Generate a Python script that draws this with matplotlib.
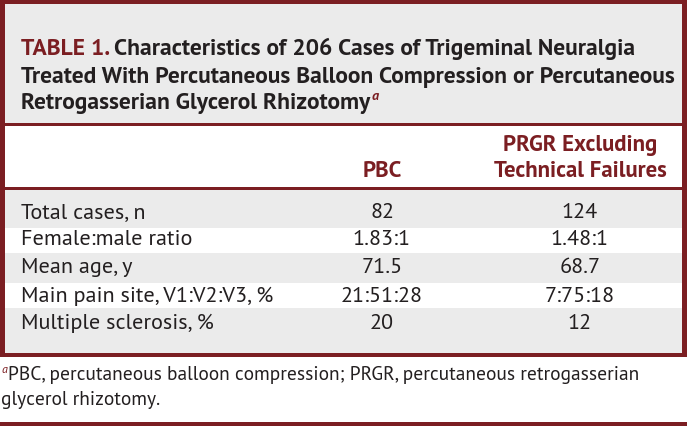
import matplotlib
matplotlib.use('Agg')
import matplotlib.pyplot as plt
from matplotlib.patches import Rectangle

plt.rcParams['font.family'] = ['PT Sans', 'Lato', 'DejaVu Sans']

# table content
title_lines = ['Characteristics of 206 Cases of Trigeminal Neuralgia',
               'Treated With Percutaneous Balloon Compression or Percutaneous',
               'Retrogasserian Glycerol Rhizotomy']
col_headers = ['PBC', 'PRGR Excluding\nTechnical Failures']
row_labels = ['Total cases, n', 'Female:male ratio', 'Mean age, y',
              'Main pain site, V1:V2:V3, %', 'Multiple sclerosis, %']
pbc = ['82', '1.83:1', '71.5', '21:51:28', '20']
prgr = ['124', '1.48:1', '68.7', '7:75:18', '12']
footnote = ['PBC, percutaneous balloon compression; PRGR, percutaneous retrogasserian',
            'glycerol rhizotomy.']

red = '#7b1e22'
gray = '#ebebeb'
txt = '#231f20'

fig = plt.figure(figsize=(6.87, 4.26), dpi=100)
ax = fig.add_axes([0, 0, 1, 1])
ax.set_xlim(0, 687)
ax.set_ylim(426, 0)
ax.axis('off')
r = fig.canvas.get_renderer()


def width(t):
    return t.get_window_extent(r).width


def fit_size(s, target, weight='normal'):
    # font size that makes s about target pixels wide
    t = ax.text(0, 0, s, fontsize=12, fontweight=weight)
    w = width(t)
    t.remove()
    return 12 * target / w


fs_title = fit_size('TABLE 1. ' + title_lines[0], 614, 'bold')
fs_head = fit_size('Technical Failures', 173, 'bold')
fs_body = fit_size(row_labels[0], 124)
fs_foot = fit_size(footnote[0], 629)

# outer frame + title band
ax.add_patch(Rectangle((0, 0), 687, 357, color=red, lw=0))
ax.add_patch(Rectangle((5, 4), 677, 349, color='white', lw=0))
ax.add_patch(Rectangle((5, 4), 677, 119, color=gray, lw=0))
ax.add_patch(Rectangle((5, 123), 677, 2.5, color=red, lw=0))
ax.add_patch(Rectangle((5, 187), 677, 2.5, color=red, lw=0))

# title
tx = 21
t0 = ax.text(tx, 55, 'TABLE 1. ', color=red, fontsize=fs_title, fontweight='bold', va='baseline')
ax.text(tx + width(t0), 55, title_lines[0], color=txt, fontsize=fs_title, fontweight='bold', va='baseline')
ax.text(tx, 83, title_lines[1], color=txt, fontsize=fs_title, fontweight='bold', va='baseline')
t3 = ax.text(tx, 109, title_lines[2], color=txt, fontsize=fs_title, fontweight='bold', va='baseline')
ax.text(tx + width(t3) + 1, 100, 'a', color=red, fontsize=fs_title * 0.6,
        fontstyle='italic', fontweight='bold', va='baseline')

# column headers
col_x = [382, 580]
ax.text(col_x[0], 177, col_headers[0], color=red, fontsize=fs_head, fontweight='bold',
        ha='center', va='baseline')
ax.text(col_x[1], 177, col_headers[1], color=red, fontsize=fs_head, fontweight='bold',
        ha='center', va='baseline', multialignment='center', linespacing=1.3)

# body rows
row_top = [189.5, 228, 253, 283, 308]
row_bot = [228, 253, 283, 308, 353]
row_base = [218, 245, 273, 302, 329]
for i, lab in enumerate(row_labels):
    if i % 2 == 0:
        ax.add_patch(Rectangle((5, row_top[i]), 677, row_bot[i] - row_top[i], color=gray, lw=0))
    ax.text(21, row_base[i], lab, color=txt, fontsize=fs_body, va='baseline')
    ax.text(col_x[0], row_base[i], pbc[i], color=txt, fontsize=fs_body, ha='center', va='baseline')
    ax.text(col_x[1], row_base[i], prgr[i], color=txt, fontsize=fs_body, ha='center', va='baseline')

# footnote
ax.text(1, 373, 'a', color=red, fontsize=fs_foot * 0.62, fontstyle='italic', va='baseline')
ax.text(8, 380, footnote[0], color=txt, fontsize=fs_foot, va='baseline')
ax.text(1, 405, footnote[1], color=txt, fontsize=fs_foot, va='baseline')
ax.add_patch(Rectangle((0, 422), 687, 4, color=red, lw=0))

fig.savefig('out.png', dpi=100)
